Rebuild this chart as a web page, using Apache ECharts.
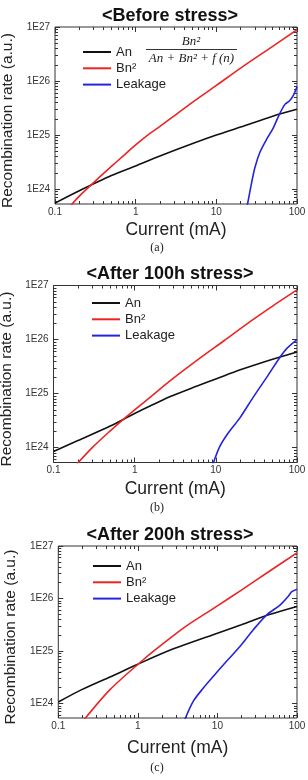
<!DOCTYPE html>
<html>
<head>
<meta charset="utf-8">
<script src="https://cdn.jsdelivr.net/npm/echarts@6/dist/echarts.min.js"></script>
<style>
  html, body { margin: 0; padding: 0; background: #fff; }
  #chart { width: 308px; height: 780px; }
</style>
</head>
<body>
<div id="chart"></div>
<script>
// labels
const titles = ['<Before stress>', '<After 100h stress>', '<After 200h stress>'];
const captions = ['(a)', '(b)', '(c)'];
const seriesNames = ['An', 'Bn²', 'Leakage'];
const xMajor = [0.1, 1, 10, 100];
const yMajor = [1e24, 1e25, 1e26, 1e27];

// (a) before stress
const anX_a = [0.1, 0.2, 0.5, 1, 2, 5, 10, 20, 50, 100];
const anY_a = [5.5e23, 9.3e23, 1.78e24, 2.69e24, 4.1e24, 6.9e24, 1.0e25, 1.41e25, 2.24e25, 3.0e25];
const bnX_a = [0.158, 0.2, 0.316, 0.5, 0.708, 1, 1.41, 2, 3.16, 5, 10, 20, 50, 100];
const bnY_a = [5.0e23, 7.4e23, 1.41e24, 2.63e24, 4.17e24, 6.6e24, 1.0e25, 1.45e25, 2.4e25, 4.0e25, 8.3e25, 1.74e26, 4.4e26, 8.9e26];
const lkX_a = [24.2, 27.4, 30.1, 34.7, 41.9, 50.7, 60.3, 70.8, 80.4, 89.1, 100];
const lkY_a = [5.0e23, 1.32e24, 2.51e24, 4.8e24, 8.3e24, 1.35e25, 2.4e25, 3.7e25, 4.27e25, 5.25e25, 7.8e25];

// (b) after 100h
const anX_b = [0.1, 0.2, 0.5, 1, 2.7, 5, 10, 20, 40, 100];
const anY_b = [8.5e23, 1.35e24, 2.51e24, 4.27e24, 8.7e24, 1.26e25, 1.86e25, 2.75e25, 3.9e25, 5.9e25];
const bnX_b = [0.19, 0.3, 0.5, 0.8, 1.6, 2.7, 6.3, 12.6, 27.5, 50, 100];
const bnY_b = [4.8e23, 1.0e24, 2.04e24, 3.8e24, 8.9e24, 1.7e25, 4.47e25, 9.5e25, 2.24e26, 4.17e26, 8.3e26];
const lkX_b = [9.1, 11.2, 14.2, 19.8, 28.8, 42.3, 61.7, 74.5, 100];
const lkY_b = [4.7e23, 1.05e24, 1.86e24, 3.55e24, 8.5e24, 2.0e25, 4.7e25, 6.8e25, 1.0e26];

// (c) after 200h
const anX_c = [0.1, 0.2, 0.5, 1, 2.8, 10, 20, 46, 100];
const anY_c = [1.07e24, 1.86e24, 3.47e24, 5.62e24, 1.1e25, 2.19e25, 3.16e25, 5.0e25, 7.08e25];
const bnX_c = [0.213, 0.45, 1.18, 2, 4, 10, 20, 45, 100];
const bnY_c = [5.0e23, 1.86e24, 6.9e24, 1.32e25, 2.95e25, 7.24e25, 1.45e26, 3.31e26, 7.41e26];
const lkX_c = [3.9, 5.0, 6.7, 8.9, 13.1, 19.3, 28.4, 41.7, 61.7, 78.2, 86.1, 100];
const lkY_c = [5.0e23, 1.12e24, 2.0e24, 3.31e24, 6.46e24, 1.23e25, 2.57e25, 4.9e25, 7.59e25, 1.12e26, 1.35e26, 1.51e26];

const panels = [
  { an: [anX_a, anY_a], bn: [bnX_a, bnY_a], lk: [lkX_a, lkY_a] },
  { an: [anX_b, anY_b], bn: [bnX_b, bnY_b], lk: [lkX_b, lkY_b] },
  { an: [anX_c, anY_c], bn: [bnX_c, bnY_c], lk: [lkX_c, lkY_c] }
];

// minor tick positions (2..9 per decade)
const xMinor = [], yMinor = [];
[0.1, 1, 10].forEach(d => { for (let k = 2; k <= 9; k++) xMinor.push(+(d * k).toPrecision(3)); });
[1e23, 1e24, 1e25, 1e26].forEach(d => { for (let k = 2; k <= 9; k++) if (d * k > 5.3e23) yMinor.push(d * k); });

const FONT = 'Liberation Sans';
const yMin = 5.3e23;
const yMax = 1.002e27;
const colors = ['#111111', '#ec2424', '#2424e0'];

// layout per panel
const grids = [
  { left: 55, top: 27, height: 177 },
  { left: 53.5, top: 285.5, height: 177 },
  { left: 58.3, top: 546, height: 172 }
];
const xNameGap = [17, 17.5, 21];
const yNameGap = [37, 35.5, 40];
const legendPos = [[78, 40], [87, 291], [88, 554]];
const titleY = [16, 274, 535];
const captionY = [248, 508, 768];

const tickLine = { color: '#333', width: 1 };
const xAxis = [], yAxis = [], series = [];

grids.forEach((g, gi) => {
  const xb = { type: 'log', gridIndex: gi, min: 0.1, max: 100, splitLine: { show: false }, axisLine: { show: false } };
  const yb = { type: 'log', gridIndex: gi, min: yMin, max: yMax, splitLine: { show: false }, axisLine: { show: false } };
  const xi = xAxis.length, yi = yAxis.length;
  xAxis.push(
    Object.assign({}, xb, {
      position: 'bottom', name: 'Current (mA)', nameLocation: 'middle', nameGap: xNameGap[gi],
      nameTextStyle: { fontSize: 17.5, color: '#222', fontFamily: FONT },
      axisTick: { inside: true, length: 5, customValues: xMajor, lineStyle: tickLine },
      axisLabel: {
        customValues: xMajor, margin: 3, fontSize: 10, color: '#333', fontFamily: FONT,
        formatter: v => v < 1 ? '0.1' : String(Math.round(v))
      }
    }),
    Object.assign({}, xb, { position: 'bottom', axisTick: { inside: true, length: 3, customValues: xMinor, lineStyle: tickLine }, axisLabel: { show: false } }),
    Object.assign({}, xb, { position: 'top', axisTick: { inside: true, length: 5, customValues: xMajor, lineStyle: tickLine }, axisLabel: { show: false } }),
    Object.assign({}, xb, { position: 'top', axisTick: { inside: true, length: 3, customValues: xMinor, lineStyle: tickLine }, axisLabel: { show: false } })
  );
  yAxis.push(
    Object.assign({}, yb, {
      position: 'left', name: 'Recombination rate (a.u.)', nameLocation: 'middle', nameGap: yNameGap[gi],
      nameTextStyle: { fontSize: 15.5, color: '#222', fontFamily: FONT, padding: [0, 10, 0, 0] },
      axisTick: { inside: true, length: 5, customValues: yMajor, lineStyle: tickLine },
      axisLabel: {
        customValues: yMajor, margin: 5, fontSize: 10, color: '#333', fontFamily: FONT,
        formatter: v => '1E' + Math.round(Math.log10(v))
      }
    }),
    Object.assign({}, yb, { position: 'left', axisTick: { inside: true, length: 3, customValues: yMinor, lineStyle: tickLine }, axisLabel: { show: false } }),
    Object.assign({}, yb, { position: 'right', axisTick: { inside: true, length: 5, customValues: yMajor, lineStyle: tickLine }, axisLabel: { show: false } }),
    Object.assign({}, yb, { position: 'right', axisTick: { inside: true, length: 3, customValues: yMinor, lineStyle: tickLine }, axisLabel: { show: false } })
  );
  const p = panels[gi];
  [p.an, p.bn, p.lk].forEach((d, si) => {
    series.push({
      name: seriesNames[si],
      type: 'line',
      xAxisIndex: xi,
      yAxisIndex: yi,
      data: d[0].map((x, i) => [x, d[1][i]]),
      showSymbol: false,
      symbol: 'none',
      smooth: 0.3,
      clip: true,
      lineStyle: { color: colors[si], width: 1.6 },
      itemStyle: { color: colors[si] }
    });
  });
});

const graphic = [];
titles.forEach((t, i) => {
  graphic.push({
    type: 'text', x: 170, y: titleY[i],
    style: { text: t, font: 'bold 18px "Liberation Sans"', fill: '#111', align: 'center', verticalAlign: 'middle' }
  });
  graphic.push({
    type: 'text', x: 157, y: captionY[i],
    style: { text: captions[i], font: '12px "Liberation Serif"', fill: '#222', align: 'center', verticalAlign: 'middle' }
  });
});
// efficiency formula in panel (a)
graphic.push(
  { type: 'text', x: 191, y: 42, style: { text: 'Bn²', font: 'italic 13px "Liberation Serif"', fill: '#222', align: 'center', verticalAlign: 'middle' } },
  { type: 'line', shape: { x1: 146, y1: 49.5, x2: 237, y2: 49.5 }, style: { stroke: '#333', lineWidth: 1 } },
  { type: 'text', x: 191.5, y: 59, style: { text: 'An + Bn² + f (n)', font: 'italic 13px "Liberation Serif"', fill: '#222', align: 'center', verticalAlign: 'middle' } }
);

const chart = echarts.init(document.getElementById('chart'));
chart.setOption({
  animation: false,
  backgroundColor: '#fff',
  textStyle: { fontFamily: FONT },
  grid: grids.map(g => ({
    left: g.left, right: 11, top: g.top, height: g.height,
    show: true, borderColor: '#333', borderWidth: 1, backgroundColor: 'transparent',
    outerBoundsMode: 'none'
  })),
  legend: legendPos.map(lp => ({
    orient: 'vertical', left: lp[0], top: lp[1],
    data: seriesNames, icon: 'rect', itemWidth: 28, itemHeight: 2, itemGap: 2.3,
    selectedMode: false,
    textStyle: { fontSize: 13, color: '#222', fontFamily: FONT, lineHeight: 14 }
  })),
  xAxis: xAxis,
  yAxis: yAxis,
  series: series,
  graphic: graphic
});
</script>
</body>
</html>
